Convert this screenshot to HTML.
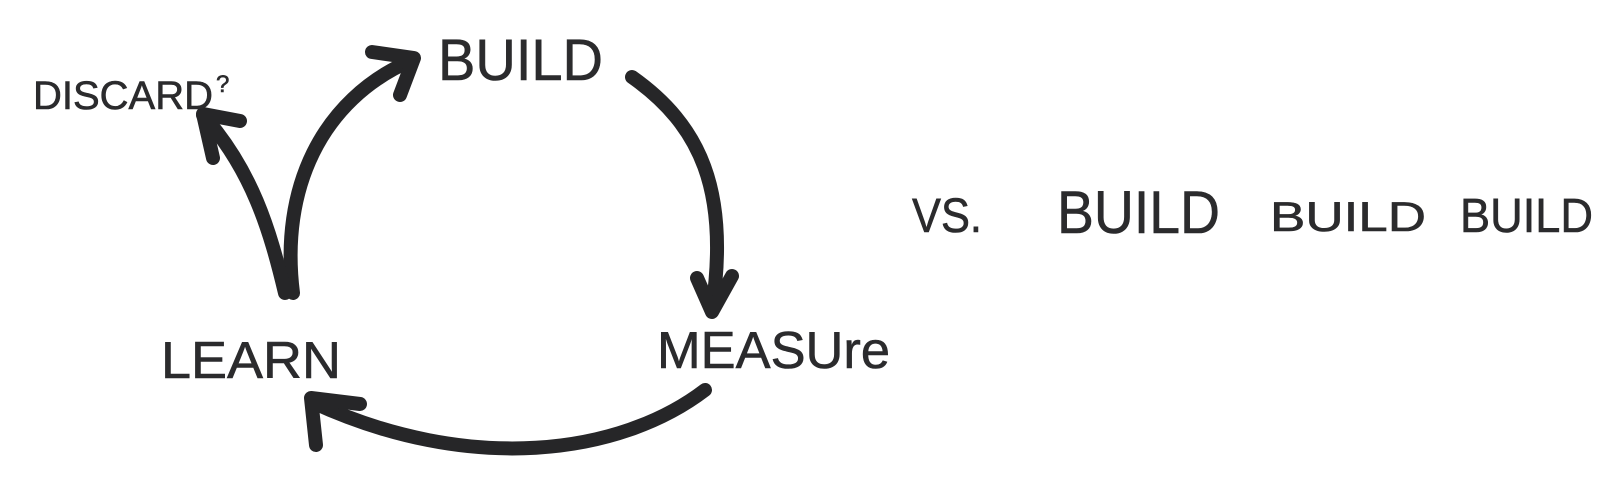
<!DOCTYPE html>
<html><head><meta charset="utf-8"><style>
html,body{margin:0;padding:0;background:#fff;}
svg{display:block}
text{font-family:"Liberation Sans",sans-serif;fill:#2b2b2d;stroke:#2b2b2d;stroke-width:0.6;}
</style></head><body>
<svg width="1600" height="495" viewBox="0 0 1600 495" xmlns="http://www.w3.org/2000/svg">
<rect width="1600" height="495" fill="#fff"/>
<g fill="none" stroke="#262628" stroke-width="14" stroke-linecap="round" stroke-linejoin="round">
  <path d="M293,293 C 280,190 320,100 412,60"/>
  <path d="M372,52 L414,58 L400,95"/>
  <path d="M285,293 C 270,230 252,170 203,115"/>
  <path d="M240,121 L203,114 L213,158"/>
  <path d="M632,77 C 700,125 730,190 712,310"/>
  <path d="M697,278 L712,312 L732,276"/>
  <path d="M705,390 C 620,455 470,475 312,402"/>
  <path d="M360,404 L311,398 L316,445"/>
</g>
<text x="33" y="109" font-size="40" textLength="180" lengthAdjust="spacingAndGlyphs">DISCARD</text>
<text x="216" y="92" font-size="24">?</text>
<text x="438" y="80" font-size="58" textLength="165" lengthAdjust="spacingAndGlyphs">BUILD</text>
<text x="161" y="378" font-size="52" textLength="180" lengthAdjust="spacingAndGlyphs">LEARN</text>
<text x="657" y="368" font-size="52" textLength="233" lengthAdjust="spacingAndGlyphs">MEASUre</text>
<text x="912" y="232" font-size="48" textLength="70" lengthAdjust="spacingAndGlyphs">VS.</text>
<text x="1057" y="233" font-size="60" textLength="163" lengthAdjust="spacingAndGlyphs">BUILD</text>
<text x="1270" y="231" font-size="42" textLength="156" lengthAdjust="spacingAndGlyphs">BUILD</text>
<text x="1460" y="232" font-size="48" textLength="133" lengthAdjust="spacingAndGlyphs">BUILD</text>
</svg>
</body></html>
